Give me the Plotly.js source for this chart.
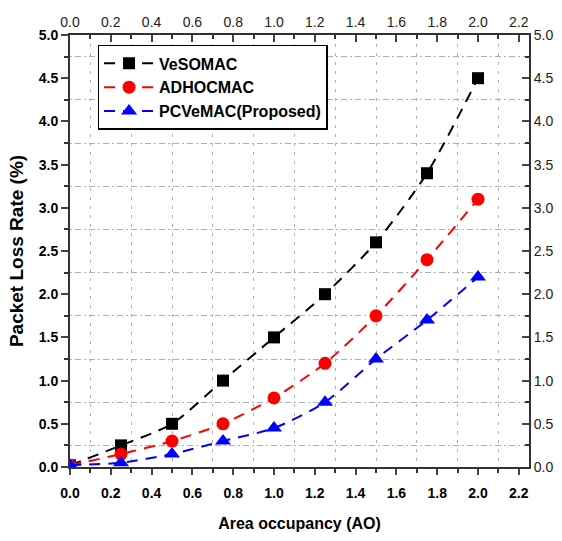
<!DOCTYPE html>
<html><head><meta charset="utf-8">
<script src="https://cdn.plot.ly/plotly-3.0.1.min.js"></script>
<style>body{margin:0;background:#fff}#c{width:562px;height:541px}</style>
</head><body><div id="c"></div>
<script>
const ao = [0, 0.25, 0.5, 0.75, 1.0, 1.25, 1.5, 1.75, 2.0];
const vesomac = [0.02, 0.25, 0.5, 1.0, 1.5, 2.0, 2.6, 3.4, 4.5];
const adhocmac = [0.02, 0.15, 0.3, 0.5, 0.8, 1.2, 1.75, 2.4, 3.1];
const pcvemac = [0.02, 0.05, 0.15, 0.3, 0.45, 0.75, 1.25, 1.7, 2.2];
const names = ['VeSOMAC', 'ADHOCMAC', 'PCVeMAC(Proposed)'];
const xTicks = [0, 0.2, 0.4, 0.6, 0.8, 1.0, 1.2, 1.4, 1.6, 1.8, 2.0, 2.2];
const yTicks = [0, 0.5, 1.0, 1.5, 2.0, 2.5, 3.0, 3.5, 4.0, 4.5, 5.0];

const font = 'Liberation Sans, Arial, sans-serif';
function tr(y, name, color, symbol, size) {
  return {x: ao, y: y, name: name, type: 'scatter', mode: 'lines+markers',
    line: {color: color, dash: '11px,8px', width: 2, shape: 'spline', smoothing: 0.7},
    marker: {color: color, symbol: symbol, size: size}, cliponaxis: true};
}
const data = [
  tr(vesomac, names[0], '#000000', 'square', 12),
  tr(adhocmac, names[1], '#ff0000', 'circle', 13),
  tr(pcvemac, names[2], '#0000ff', 'triangle-up', 14),
  {x: ao, y: vesomac, xaxis: 'x2', yaxis: 'y2', type: 'scatter', mode: 'markers',
   marker: {opacity: 0}, showlegend: false, hoverinfo: 'skip'}
];
const fmt = v => v.toFixed(1);
const gridMinor = (t0, dt, dash) => ({tick0: t0, dtick: dt, showgrid: true, gridcolor: '#b0b0b0', griddash: dash, gridwidth: 1, ticks: 'outside', ticklen: 4, tickcolor: '#333', tickwidth: 1.5});
const layout = {
  width: 562, height: 541,
  margin: {l: 70, r: 33, t: 35, b: 74},
  paper_bgcolor: '#fff', plot_bgcolor: '#fff',
  showlegend: true,
  legend: {x: 0.06, y: 0.977, xanchor: 'left', yanchor: 'top', bordercolor: '#000', borderwidth: 1.5, itemwidth: 50,
    bgcolor: '#fff', font: {family: font, size: 16, color: '#000', weight: 'bold'}, tracegroupgap: 0},
  xaxis: {range: [0, 2.25], tickvals: xTicks, ticktext: xTicks.map(fmt), ticks: 'outside', ticklen: 6, tickwidth: 1.5,
    showline: true, linecolor: '#333', linewidth: 2, zeroline: false, showgrid: false, ticklabelstandoff: 6,
    minor: gridMinor(0.1, 0.2, '3px,6px'),
    tickfont: {family: font, size: 14, color: '#000', weight: 'bold'},
    title: {text: 'Area occupancy (AO)', font: {family: font, size: 16, color: '#000', weight: 'bold'}, standoff: 18}},
  yaxis: {range: [0, 5], tickvals: yTicks, ticktext: yTicks.map(fmt), ticks: 'outside', ticklen: 7, tickwidth: 1.5,
    showline: true, linecolor: '#333', linewidth: 2, zeroline: false, showgrid: false,
    minor: gridMinor(0.25, 0.5, '2px,3px,6px,3px'),
    tickfont: {family: font, size: 14, color: '#000', weight: 'bold'},
    title: {text: 'Packet Loss Rate (%)', font: {family: font, size: 19, color: '#000', weight: 'bold'}, standoff: 10}},
  xaxis2: {overlaying: 'x', side: 'top', anchor: 'y', range: [0, 2.25], tickvals: xTicks, ticktext: xTicks.map(fmt),
    ticks: 'inside', ticklen: 7, tickwidth: 1.5, showline: true, linecolor: '#333', linewidth: 2, showgrid: false, zeroline: false,
    minor: {tick0: 0.1, dtick: 0.2, ticks: 'inside', ticklen: 4, tickwidth: 1.5, tickcolor: '#333', showgrid: false},
    tickfont: {family: font, size: 14, color: '#222'}},
  yaxis2: {overlaying: 'y', side: 'right', anchor: 'x', range: [0, 5], tickvals: yTicks, ticktext: yTicks.map(fmt),
    ticks: 'inside', ticklen: 7, tickwidth: 1.5, showline: true, linecolor: '#333', linewidth: 2, showgrid: false, zeroline: false,
    minor: {tick0: 0.25, dtick: 0.5, ticks: 'inside', ticklen: 4, tickwidth: 1.5, tickcolor: '#333', showgrid: false},
    tickfont: {family: font, size: 14, color: '#222'}}
};
Plotly.newPlot('c', data, layout, {displayModeBar: false});
</script></body></html>
